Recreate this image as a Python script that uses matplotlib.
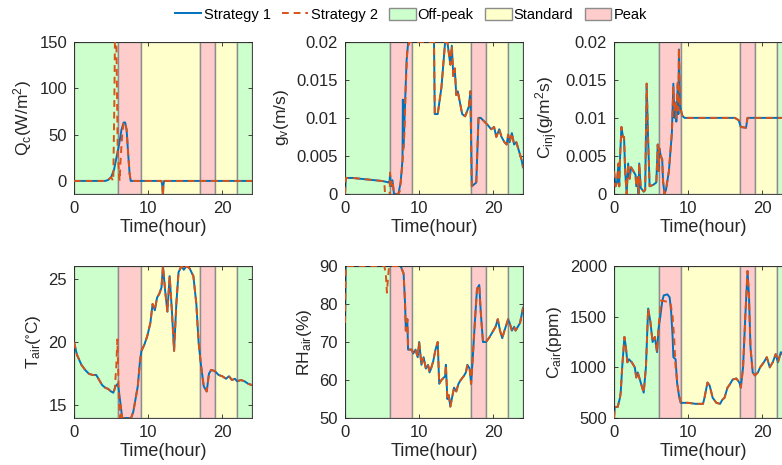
import numpy as np
import matplotlib
matplotlib.use('Agg')
import matplotlib.pyplot as plt
from matplotlib.lines import Line2D
from matplotlib.patches import Patch
from matplotlib.ticker import FuncFormatter

plt.rcParams['font.family'] = ['Liberation Sans', 'DejaVu Sans']
plt.rcParams['mathtext.fontset'] = 'custom'
plt.rcParams['mathtext.rm'] = 'Liberation Sans'
plt.rcParams['mathtext.it'] = 'Liberation Sans'
plt.rcParams['mathtext.default'] = 'regular'

## tariff periods over the day
period_start = [0, 6, 9, 17, 19, 22]
period_end = [6, 9, 17, 19, 22, 24]
period_kind = ['Off-peak', 'Peak', 'Standard', 'Peak', 'Standard', 'Off-peak']
period_color = {'Off-peak': '#ccffcc', 'Standard': '#ffffcc', 'Peak': '#ffcccc'}

## cooling load Q_c
qc_t1 = [0, 4.2, 4.6, 5.0, 5.4, 5.8, 6.1, 6.4, 6.7, 6.9, 7.1, 7.3, 7.5, 7.65, 11.8, 11.9, 12.0, 12.05, 12.15, 24]
qc_y1 = [0, 0, 1, 4, 12, 28, 40, 55, 63, 63, 55, 30, 8, 0, 0, -5, -16, -5, 0, 0]
qc_t2 = [5.3, 5.45, 5.6, 5.75, 5.9, 6.15, 6.3, 6.5]
qc_y2 = [0, 90, 220, 130, 30, 0, 25, 50]

## ventilation g_v
gv_t1 = [0, 0.1, 1, 2, 3, 4, 5, 5.5, 5.9, 6.0, 6.07, 6.2, 6.4, 6.6, 7.2, 7.5, 7.75, 7.8, 7.9, 8.1, 8.3, 8.5, 8.7,
         12.0, 12.1, 12.5, 13.0, 13.5, 13.8, 14.2, 14.4, 14.6, 14.8, 15.0, 15.2, 15.4, 15.8, 16.2, 16.7, 16.9,
         17.1, 17.7, 18.0, 18.3, 18.8, 19.3, 19.7, 20.1, 20.4, 20.8, 21.1, 21.5, 21.8, 22.0, 22.2, 22.5, 22.8,
         23.1, 23.5, 23.8, 24]
gv_y1 = [0, 0.0021, 0.0021, 0.0020, 0.0019, 0.0018, 0.0017, 0.0016, 0.0015, 0.0015, 0.0026, 0.0010, 0.0018, 0.0,
         0.0, 0.0015, 0.0045, 0.0124, 0.0061, 0.0120, 0.0175, 0.0198, 0.020,
         0.020, 0.0105, 0.0105, 0.0140, 0.020, 0.020, 0.017, 0.0195, 0.0155, 0.0165, 0.013, 0.0135, 0.0125,
         0.0105, 0.0102, 0.0115, 0.0135, 0.0010, 0.0015, 0.0100, 0.0100, 0.0095, 0.0090, 0.0085, 0.0088, 0.0075,
         0.0085, 0.0075, 0.0068, 0.0065, 0.0078, 0.0068, 0.0080, 0.0065, 0.0068, 0.0055, 0.0045, 0.0035]
gv_t2 = [5.3, 5.45, 6.0, 6.07, 6.2, 6.4, 6.6, 7.2, 7.4, 7.7, 8.0, 8.2, 8.4, 8.7]
gv_y2 = [0.0016, -0.001, -0.001, 0.0028, 0.0012, 0.0018, 0.0, 0.0, 0.0004, 0.0035, 0.0078, 0.0144, 0.019, 0.020]

## CO2 injection C_inj
ci_t1 = [0, 0.2, 0.4, 0.6, 0.7, 0.8, 1.0, 1.2, 1.35, 1.5, 1.7, 1.9, 2.1, 2.3, 2.6, 2.9, 3.0, 3.2, 3.3, 3.4, 3.6,
         4.0, 4.2, 4.4, 4.6, 4.8, 5.3, 5.7, 5.9, 6.0, 6.1, 6.3, 6.5, 6.6, 6.8, 7.0, 7.4, 7.8, 8.0, 8.15, 8.3,
         8.4, 8.6, 8.68, 8.75, 8.9, 9.2, 9.5, 16.3, 16.8, 17.1, 17.8, 18.0, 24]
ci_y1 = [0.003, 0.001, 0.0015, 0.004, 0.001, 0.0045, 0.0088, 0.0075, 0.0075, 0.003, 0.0, 0.004, 0.002, 0.0035,
         0.003, 0.0025, 0.001, 0.0022, 0.0, 0.004, 0.0008, 0.0003, 0.0005, 0.0145, 0.007, 0.001, 0.0012, 0.0015,
         0.0065, 0.003, 0.006, 0.005, 0.0045, 0.0018, 0.0, 0.0005, 0.003, 0.008, 0.0145, 0.010, 0.012, 0.0095,
         0.0145, 0.0105, 0.019, 0.0115, 0.0103, 0.0100, 0.0100, 0.0097, 0.0088, 0.0087, 0.0100, 0.0100]
ci_t2 = [7.8, 8.0, 8.15, 8.3, 8.4, 8.6, 8.68, 8.75]
ci_y2 = [0.008, 0.0140, 0.0110, 0.0120, 0.0100, 0.0150, 0.0110, 0.0192]

## air temperature T_air
ta_t1 = [0, 0.4, 1.0, 1.5, 2.0, 2.5, 3.0, 3.4, 3.8, 4.2, 4.6, 5.0, 5.3, 5.6, 5.9, 6.0, 6.3, 6.5, 7.7, 8.0, 8.3, 8.6,
         8.9, 9.1, 9.5, 9.9, 10.3, 10.6, 10.9, 11.2, 11.5, 11.8, 12.0, 12.3, 12.6, 12.9, 13.2, 13.5, 13.8, 14.1,
         14.5, 14.8, 15.2, 15.6, 16.1, 16.5, 16.8, 17.1, 17.5, 17.9, 18.2, 18.5, 19.0, 19.5, 20.0, 20.5, 20.9,
         21.3, 21.7, 22.0, 22.5, 23.0, 23.5, 24]
ta_y1 = [20, 19, 18.2, 17.8, 17.5, 17.4, 17.4, 17.0, 16.6, 16.4, 16.3, 16.1, 16.0, 16.5, 16.7, 16.4, 15.0, 14.0,
         14.0, 14.5, 15.5, 16.5, 18.5, 19.3, 19.8, 20.5, 21.5, 23.0, 22.5, 23.5, 23.8, 24.3, 26.0, 24.0, 22.4,
         25.2, 22.5, 19.3, 23.0, 25.5, 26.0, 25.7, 26.0, 25.8, 25.2, 23.0, 20.0, 18.3, 16.5, 16.1, 17.5, 17.8,
         17.7, 17.4, 17.3, 17.1, 17.3, 17.0, 17.1, 16.9, 17.0, 16.9, 16.7, 16.6]
ta_t2 = [5.5, 5.7, 5.85, 5.95, 6.05, 6.25]
ta_y2 = [16.3, 18.0, 20.2, 18.0, 15.5, 14.0]

## relative humidity RH_air
rh_t1 = [0, 0.1, 7.5, 7.9, 8.1, 8.2, 8.4, 8.5, 9.0, 9.2, 9.5, 9.8, 10.0, 10.3, 10.6, 10.9, 11.2, 11.4, 11.6, 11.9,
         12.2, 12.5, 12.7, 13.0, 13.5, 13.6, 13.8, 14.0, 14.2, 14.4, 14.7, 15.0, 15.3, 15.6, 16.0, 16.3, 16.5,
         16.8, 17.0, 17.2, 17.5, 17.8, 18.1, 18.3, 18.6, 19.0, 19.4, 19.7, 20.0, 20.3, 20.6, 20.9, 21.2, 21.5,
         22.0, 22.2, 22.5, 22.8, 23.0, 23.3, 23.6, 23.8, 24]
rh_y1 = [75, 90, 90, 88, 80, 73, 76, 68, 68, 67, 68, 66, 70, 64, 66, 63, 64, 62, 63, 65, 68, 70, 59, 60, 61, 64,
         55, 56, 53, 55, 58, 57, 59, 60, 61, 62, 64, 63, 59, 65, 75, 84, 85, 78, 70, 70, 71, 72, 73, 74, 76, 73,
         71, 73, 76, 75, 73, 74, 73, 74, 75, 77, 79]
rh_t2 = [5.3, 5.5, 5.65, 5.8, 5.95]
rh_y2 = [90, 88, 83, 87, 90]

## CO2 concentration C_air
ca_t1 = [0, 0.1, 0.5, 0.8, 0.9, 1.1, 1.4, 1.6, 1.8, 2.0, 2.4, 2.8, 3.0, 3.2, 3.6, 4.0, 4.3, 4.6, 4.9, 5.2, 5.5,
         5.8, 6.0, 6.2, 6.5, 6.7, 7.2, 7.5, 7.7, 7.9, 8.0, 8.3, 8.5, 8.8, 9.0, 10.0, 11.0, 12.0, 12.2, 12.6,
         12.9, 13.3, 13.8, 14.3, 14.6, 14.9, 15.3, 15.6, 16.0, 16.5, 16.9, 17.1, 17.4, 17.7, 18.0, 18.2, 18.4,
         18.7, 19.0, 19.4, 19.7, 20.2, 20.6, 21.0, 21.4, 21.8, 22.1, 22.5, 23.0, 23.5, 24]
ca_y1 = [500, 610, 610, 700, 750, 1000, 1300, 1200, 1050, 1080, 1050, 1000, 900, 950, 850, 750, 1000, 1580, 1450,
         1250, 1300, 1150, 1380, 1480, 1650, 1710, 1720, 1690, 1550, 1300, 1100, 1080, 850, 700, 650, 650, 640,
         640, 700, 850, 820, 700, 650, 640, 680, 700, 800, 830, 880, 890, 850, 800, 1000, 1500, 1950, 1700, 1200,
         950, 920, 950, 1000, 1050, 1100, 1000, 1050, 1130, 1050, 1150, 1100, 1150, 1150]
ca_t2 = [5.8, 6.0, 6.2, 6.35, 7.0, 7.6, 7.9, 8.1, 8.3, 8.6, 9.0]
ca_y2 = [1150, 1400, 1550, 1660, 1650, 1640, 1500, 1300, 1000, 800, 650]

## axis settings for each panel
ylabels = ['Q$_c$(W/m$^2$)', 'g$_v$(m/s)', 'C$_{inj}$(g/m$^2$s)',
           'T$_{air}$($^{\\circ}$C)', 'RH$_{air}$(%)', 'C$_{air}$(ppm)']
ylims = [(-14, 150), (0, 0.02), (0, 0.02), (14, 26), (50, 90), (500, 2000)]
yticks = [[0, 50, 100, 150], [0, 0.005, 0.01, 0.015, 0.02], [0, 0.005, 0.01, 0.015, 0.02],
          [15, 20, 25], [50, 60, 70, 80, 90], [500, 1000, 1500, 2000]]

series = [(qc_t1, qc_y1, qc_t2, qc_y2), (gv_t1, gv_y1, gv_t2, gv_y2), (ci_t1, ci_y1, ci_t2, ci_y2),
          (ta_t1, ta_y1, ta_t2, ta_y2), (rh_t1, rh_y1, rh_t2, rh_y2), (ca_t1, ca_y1, ca_t2, ca_y2)]

blue = '#0072BD'
orange = '#D95319'
axcol = '#262626'
dash = (0, (3.5, 2.5))


def strategy2(t1, y1, t2, y2):
    # strategy 2 follows strategy 1 except inside its own window
    t1 = np.array(t1); y1 = np.array(y1)
    lo, hi = t2[0], t2[-1]
    left = t1 < lo
    right = t1 > hi
    t = np.concatenate([t1[left], t2, t1[right]])
    y = np.concatenate([y1[left], y2, y1[right]])
    return t, y


fig = plt.figure(figsize=(7.82, 4.65), dpi=100)
lefts = [0.0946, 0.4412, 0.7852]
bottoms = [0.583, 0.101]
w, h = 0.2276, 0.327

for i in range(6):
    ax = fig.add_axes([lefts[i % 3], bottoms[i // 3], w, h])
    for s, e, k in zip(period_start, period_end, period_kind):
        ax.axvspan(s, e, facecolor=period_color[k], edgecolor='#8c8c8c', linewidth=1.0, zorder=0)
    t1, y1, t2, y2 = series[i]
    ts, ys = strategy2(t1, y1, t2, y2)
    ax.plot(t1, y1, color=blue, linewidth=1.4, zorder=2)
    ax.plot(ts, ys, color=orange, linewidth=1.4, linestyle=dash, zorder=3)
    ax.set_xlim(0, 24)
    ax.set_ylim(*ylims[i])
    ax.set_xticks([0, 10, 20])
    ax.set_yticks(yticks[i])
    ax.yaxis.set_major_formatter(FuncFormatter(lambda v, p: '%g' % v))
    ax.tick_params(direction='in', top=True, right=True, length=3, width=0.6,
                   labelsize=12, colors=axcol, pad=5)
    for sp in ax.spines.values():
        sp.set_color(axcol)
        sp.set_linewidth(0.6)
    ax.set_xlabel('Time(hour)', fontsize=13, color=axcol, labelpad=2)
    ax.set_ylabel(ylabels[i], fontsize=12.5, color=axcol, labelpad=4)

handles = [Line2D([], [], color=blue, linewidth=1.4),
           Line2D([], [], color=orange, linewidth=1.4, linestyle=dash),
           Patch(facecolor=period_color['Off-peak'], edgecolor='#8c8c8c'),
           Patch(facecolor=period_color['Standard'], edgecolor='#8c8c8c'),
           Patch(facecolor=period_color['Peak'], edgecolor='#8c8c8c')]
labels = ['Strategy 1', 'Strategy 2', 'Off-peak', 'Standard', 'Peak']
fig.legend(handles, labels, loc='center', bbox_to_anchor=(0.5256, 0.968), ncol=5, frameon=False,
           fontsize=10.5, handlelength=1.8, handletextpad=0.15, columnspacing=0.8,
           handleheight=0.9)

fig.savefig('out.png', dpi=100)
